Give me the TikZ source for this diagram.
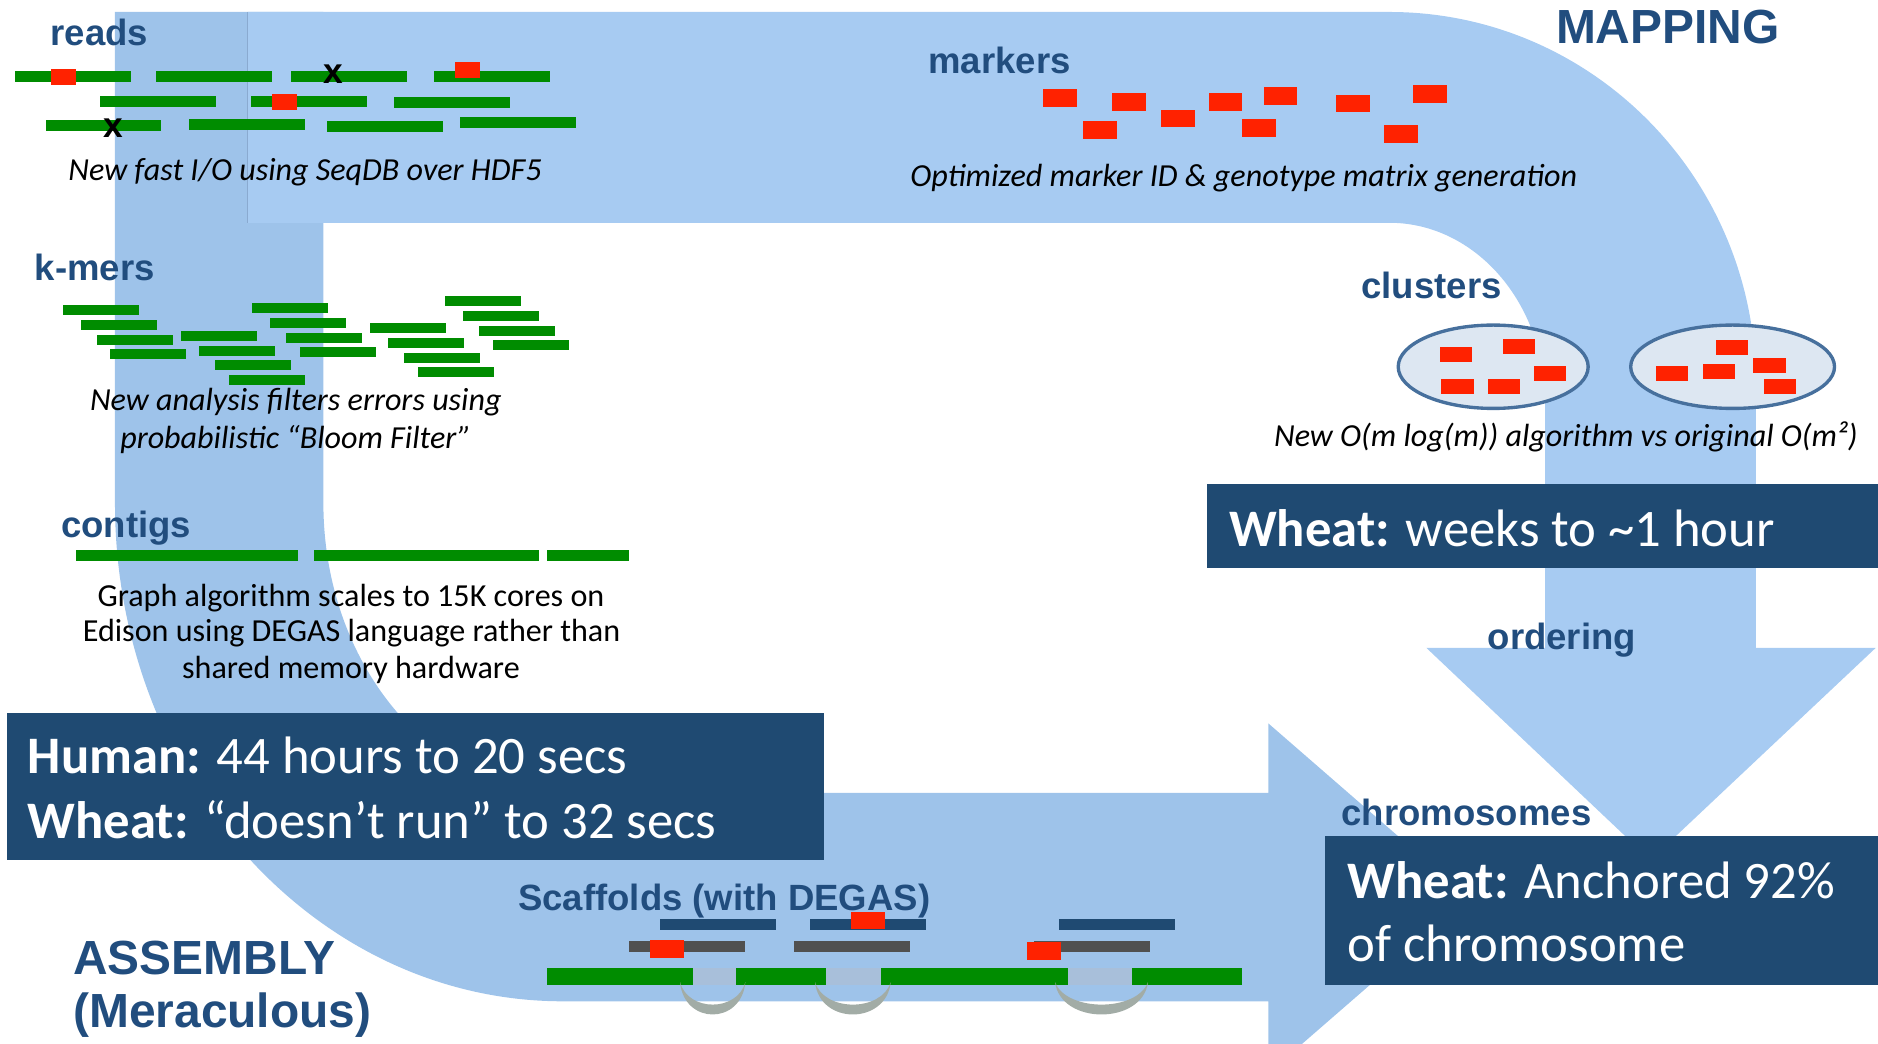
\documentclass[tikz,border=0pt]{standalone}
\usepackage{fontspec}
\setmainfont{Carlito}
\newfontfamily\labfont{Liberation Sans}

\definecolor{asmblue}{HTML}{9EC3EA}
\definecolor{mapblue}{HTML}{A7CBF2}
\definecolor{mapedge}{HTML}{8AAAD0}
\definecolor{navy}{HTML}{1F4A72}
\definecolor{labblue}{HTML}{214D7E}
\definecolor{readgreen}{HTML}{008C00}
\definecolor{markred}{HTML}{FF2200}
\definecolor{clusterfill}{HTML}{DDE7F2}
\definecolor{clusterline}{HTML}{47709D}
\definecolor{scaffgray}{HTML}{505050}
\definecolor{gapblue}{HTML}{A8BFDA}
\definecolor{arcgray}{HTML}{A2ACA6}

\begin{document}
\begin{tikzpicture}[x=1pt,y=-1pt,
  lbl/.style={font=\labfont\bfseries\fontsize{30.5}{36}\selectfont, text=labblue, anchor=base west, inner sep=0pt},
  biglbl/.style={lbl, font=\labfont\bfseries\fontsize{40}{46}\selectfont},
  desc/.style={font=\itshape\fontsize{26.8}{32}\selectfont, anchor=base, inner sep=0pt},
  note/.style={font=\fontsize{26.8}{32}\selectfont, anchor=base, inner sep=0pt},
  boxtxt/.style={font=\fontsize{44}{53}\selectfont, text=white, anchor=base west, inner sep=0pt},
  xmark/.style={font=\labfont\bfseries\fontsize{29.5}{34}\selectfont, inner sep=0pt},
  gbar/.style={fill=readgreen},
  rmark/.style={fill=markred},
  infobox/.style={fill=navy},
  clusterring/.style={draw=clusterline, fill=clusterfill, line width=2.8pt},
]
\useasboundingbox (0,0) rectangle (1568,871);
\clip (0,0) rectangle (1568,871);

% ---- assembly arrow (U-turn pointing right)
\fill[asmblue] (96,10) -- (96,420)
  .. controls (96,649.7) and (263.4,836) .. (470,836)
  -- (1059,836) -- (1059,896) -- (1227,750) -- (1059,604) -- (1059,662)
  -- (470,662) .. controls (359.5,662) and (270,553.7) .. (270,420)
  -- (270,10) -- cycle;

% ---- mapping arrow (turning down)
\fill[mapblue] (207,10) -- (1160,10)
  .. controls (1329,10) and (1466,148.8) .. (1466,320)
  -- (1466,541) -- (1566,541) -- (1378,718) -- (1191,541) -- (1290,541)
  -- (1290,336) .. controls (1290,253) and (1231.8,186) .. (1160,186)
  -- (207,186) -- cycle;
\draw[mapedge, line width=0.8pt] (207,10) -- (207,186);

% ---- reads
\foreach \x/\y in {12.5/59.3, 130.4/59.3, 243/59.3, 362.5/59.3,
                   83.5/80, 209.6/80, 329/81,
                   38/100, 158/99, 273/101, 384/98}
  \fill[gbar] (\x,\y) rectangle ++(96.8,9.2);
\fill[rmark] (42.6,57.6) rectangle (63.4,71);
\fill[rmark] (380,51.8) rectangle (401,64.9);
\fill[rmark] (227,78.5) rectangle (248,91.6);
\node[xmark] (err1) at (278,62) {x};
\node[xmark] (err2) at (94.4,107) {x};

% ---- k-mers
\foreach \x/\y in {52.5/254.7, 67.7/267.2, 80.9/279.7, 91.8/291.4,
                   151.2/276.4, 166/288.9, 179.6/300.6, 191/313,
                   210.3/253, 225.5/265.5, 238.7/278, 250.5/289.7,
                   309/269.7, 324/282.2, 337.4/294.7, 349/306.4,
                   371.4/247.1, 386.6/259.7, 399.8/272.2, 411.7/283.9}
  \fill[gbar] (\x,\y) rectangle ++(63.5,8.3);

% ---- contigs
\foreach \a/\b in {63.4/249, 262/450, 456.6/525.2}
  \fill[gbar] (\a,459.2) rectangle (\b,468.1);

% ---- markers
\foreach \x/\y in {871/74.3, 904/101, 928.5/77.6, 969.4/91.6, 1009/77.6,
                   1036.7/99.4, 1055/72.9, 1115.8/79, 1155.6/104.4, 1180/71}
  \fill[rmark] (\x,\y) rectangle ++(28.3,14.8);

% ---- clusters
\draw[clusterring] (1246.7,306.2) ellipse [x radius=79.3, y radius=34.8];
\draw[clusterring] (1446.6,306.2) ellipse [x radius=85.1, y radius=34.8];
\foreach \x/\y in {1202/289.7, 1254.8/283.3, 1280.8/305.3, 1203.5/316.4, 1242/316.4,
                   1432.8/283.9, 1382.6/305.3, 1421.6/304.2, 1464/298.9, 1472.6/316.4}
  \fill[rmark] (\x,\y) rectangle ++(27,12.5);

% ---- scaffolds
\foreach \a/\b in {551/648, 676.3/773, 884/981}
  \fill[navy] (\a,767.3) rectangle (\b,776.5);
\foreach \a/\b in {525.2/622, 662.8/759.8, 863.3/960}
  \fill[scaffgray] (\a,785.9) rectangle (\b,795.2);
\foreach \a/\b in {578.4/614.5, 689.7/735.6, 891.5/945}
  \fill[gapblue] (\a,808.2) rectangle (\b,822.4);
\foreach \a/\b in {456.5/578.4, 614.5/689.7, 735.6/891.5, 945/1037}
  \fill[gbar] (\a,808.2) rectangle (\b,822.4);
\fill[rmark] (542.7,784.8) rectangle (570.8,800.1);
\fill[rmark] (710.9,761.2) rectangle (739,775.9);
\fill[rmark] (857.8,786.2) rectangle (886,801.5);
\foreach \a/\b in {567.8/622.3, 680.5/743.7, 880.9/958.5}
  \fill[arcgray] (\a,820)
    .. controls ({\a+0.06*(\b-\a)},856) and ({\b-0.06*(\b-\a)},856) .. (\b,820)
    .. controls ({\b-0.12*(\b-\a)},845) and ({\a+0.12*(\b-\a)},845) .. (\a,820) -- cycle;

% ---- result boxes
\fill[infobox] (6,595) rectangle (688,718);
\fill[infobox] (1008,404) rectangle (1568,474);
\fill[infobox] (1106,698) rectangle (1568,822.5);
\node[boxtxt] (human) at (23,646) {\textbf{Human:} 44 hours to 20 secs};
\node[boxtxt] (wheatasm) at (23,700) {\textbf{Wheat:} “doesn’t run” to 32 secs};
\node[boxtxt] (wheatmap) at (1026,456.6) {\textbf{Wheat:} weeks to \textasciitilde1 hour};
\node[boxtxt] (wheatchr) at (1125,750) {\textbf{Wheat:} Anchored 92\%};
\node[boxtxt] (wheatchrb) at (1125,803) {of chromosome};

% ---- stage labels
\node[lbl] (reads) at (42,38) {reads};
\node[lbl] (kmers) at (29,234) {k-mers};
\node[lbl] (contigs) at (51,448.6) {contigs};
\node[lbl] (markers) at (775,61) {markers};
\node[lbl] (clusters) at (1136.5,249) {clusters};
\node[lbl] (ordering) at (1242,542) {ordering};
\node[lbl] (chromosomes) at (1120,689.4) {chromosomes};
\node[lbl] (scaffolds) at (432.5,760) {Scaffolds (with DEGAS)};
\node[biglbl] (mapping) at (1299,36) {MAPPING};
\node[biglbl] (assembly) at (61,813.4) {ASSEMBLY};
\node[biglbl] (meraculous) at (61,858) {(Meraculous)};

% ---- notes
\node[desc] (readsnote) at (254.7,150.3) {New fast I/O using SeqDB over HDF5};
\node[desc] (kmersnote) at (247,343) {New analysis filters errors using};
\node[desc] (kmersnoteb) at (247,374.3) {probabilistic “Bloom Filter”};
\node[desc] (markersnote) at (1038.5,155.9) {Optimized marker ID \& genotype matrix generation};
\node[desc] (clustersnote) at (1307.4,373) {New O(m log(m)) algorithm vs original O(m²)};
\node[note] (contignote) at (293,506) {Graph algorithm scales to 15K cores on};
\node[note] (contignoteb) at (293.5,535.8) {Edison using DEGAS language rather than};
\node[note] (contignotec) at (293,566.3) {shared memory hardware};
\end{tikzpicture}
\end{document}
